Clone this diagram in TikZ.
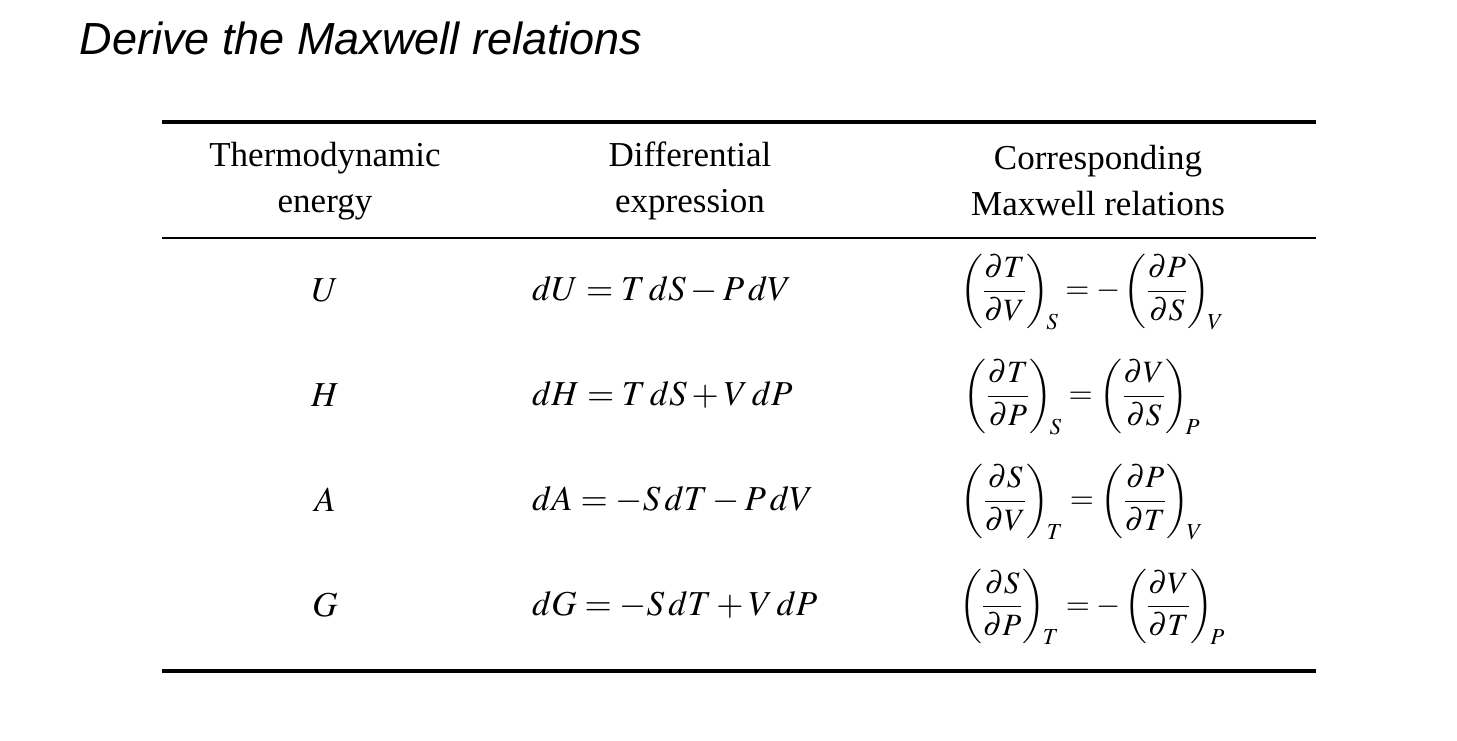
\documentclass[tikz,border=0pt]{standalone}
\usepackage{amsmath}
\usepackage{mathptmx}
\usepackage{fontspec}
\setmainfont{Liberation Serif}
\newfontfamily\titlefont{Liberation Sans}
\begin{document}
\begin{tikzpicture}[x=1pt,y=-1pt,
  hdr/.style={align=center,font=\fontsize{35}{46}\selectfont},
  cell/.style={font=\fontsize{35}{40}\selectfont},
  eq/.style={font=\fontsize{35}{40}\selectfont,anchor=west,inner sep=0pt},
  rel/.style={font=\fontsize{31}{36}\selectfont,inner sep=0pt}]
\useasboundingbox (0,0) rectangle (1457,741);
\node[anchor=west,font=\titlefont\itshape\fontsize{45}{52}\selectfont] (title) at (76,38) {Derive the Maxwell relations};
\draw[line width=4] (162,122) -- (1316,122);
\draw[line width=2] (162,238) -- (1316,238);
\draw[line width=4] (162,671) -- (1316,671);
\node[hdr] (h1) at (325,181) {Thermodynamic\\energy};
\node[hdr] (h2) at (690,181) {Differential\\expression};
\node[hdr] (h3) at (1098,181) {Corresponding\\Maxwell relations};
\node[cell] (u) at (325,290) {$U$};
\node[cell] (h) at (325,395) {$H$};
\node[cell] (a) at (325,500) {$A$};
\node[cell] (g) at (325,605) {$G$};
\node[eq] (du) at (532,290) {$dU = T\,dS - P\,dV$};
\node[eq] (dh) at (532,395) {$dH = T\,dS + V\,dP$};
\node[eq] (da) at (532,500) {$dA = -S\,dT - P\,dV$};
\node[eq] (dg) at (532,605) {$dG = -S\,dT + V\,dP$};
\node[rel] (m1) at (1092,292) {$\left(\dfrac{\partial T}{\partial V}\right)_{\!S} = -\left(\dfrac{\partial P}{\partial S}\right)_{\!V}$};
\node[rel] (m2) at (1082,397) {$\left(\dfrac{\partial T}{\partial P}\right)_{\!S} = \left(\dfrac{\partial V}{\partial S}\right)_{\!P}$};
\node[rel] (m3) at (1082,502) {$\left(\dfrac{\partial S}{\partial V}\right)_{\!T} = \left(\dfrac{\partial P}{\partial T}\right)_{\!V}$};
\node[rel] (m4) at (1092,607) {$\left(\dfrac{\partial S}{\partial P}\right)_{\!T} = -\left(\dfrac{\partial V}{\partial T}\right)_{\!P}$};
\end{tikzpicture}
\end{document}
